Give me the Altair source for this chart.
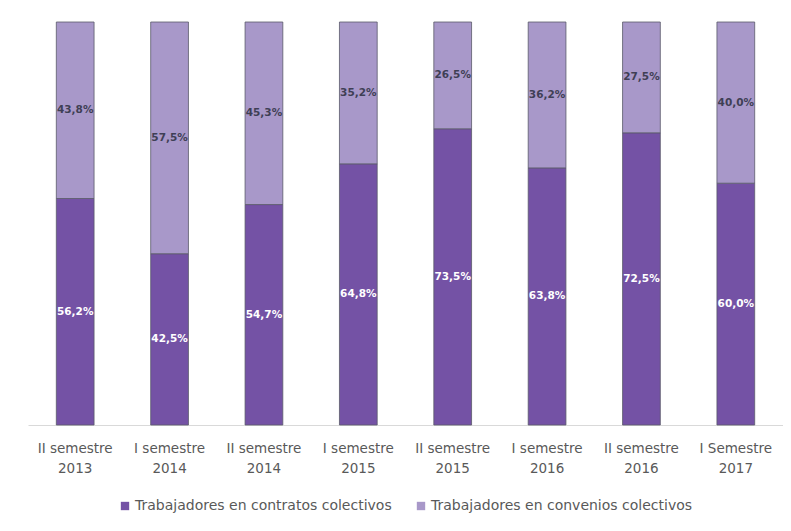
import altair as alt
import pandas as pd

periods = ["II semestre|2013", "I semestre|2014", "II semestre|2014", "I semestre|2015",
           "II semestre|2015", "I semestre|2016", "II semestre|2016", "I Semestre|2017"]
contratos = [56.2, 42.5, 54.7, 64.8, 73.5, 63.8, 72.5, 60.0]
convenios = [43.8, 57.5, 45.3, 35.2, 26.5, 36.2, 27.5, 40.0]
series = ["Trabajadores en contratos colectivos", "Trabajadores en convenios colectivos"]
colors = ["#7452a5", "#a898c9"]

rows = []
for p, a, b in zip(periods, contratos, convenios):
    rows.append({"period": p, "series": series[0], "value": a, "ord": 0})
    rows.append({"period": p, "series": series[1], "value": b, "ord": 1})
df = pd.DataFrame(rows)

FONT = "DejaVu Sans"
TXT = 13.5

base = alt.Chart(df).transform_stack(
    stack="value", groupby=["period"], as_=["y0", "y1"], sort=[alt.SortField("ord", order="ascending")]
).transform_calculate(
    mid="(datum.y0 + datum.y1) / 2",
    lbl="replace(format(datum.value, '.1f'), '.', ',') + '%'"
)

xenc = alt.X("period:N", sort=periods, title=None,
             scale=alt.Scale(paddingInner=0.6, paddingOuter=0.3),
             axis=alt.Axis(labelExpr="split(datum.label, '|')", labelAngle=0, ticks=False,
                           domainColor="#d9d9d9", labelColor="#595959", labelFont=FONT,
                           labelFontSize=TXT, labelPadding=16, labelLineHeight=20))
yscale = alt.Scale(domain=[0, 100], nice=False, zero=True)

bars = base.mark_bar(stroke="#5a5a6a", strokeWidth=0.8).encode(
    x=xenc,
    y=alt.Y("y0:Q", scale=yscale, axis=None),
    y2="y1:Q",
    color=alt.Color("series:N", sort=series,
                    scale=alt.Scale(domain=series, range=colors),
                    legend=alt.Legend(title=None, orient="none", direction="horizontal",
                                      legendX=90, legendY=477, symbolType="square",
                                      symbolSize=70, symbolStrokeWidth=0,
                                      labelFont=FONT, labelFontSize=14, labelLimit=0,
                                      labelColor="#595959", columnPadding=22,
                                      symbolOffset=0, labelOffset=3)),
)

texts = base.mark_text(font=FONT, fontSize=10.5, fontWeight="bold").encode(
    x=alt.X("period:N", sort=periods),
    y=alt.Y("mid:Q", scale=yscale),
    text="lbl:N",
    fill=alt.condition("datum.ord == 0", alt.value("#ffffff"), alt.value("#3f3f55")),
)

chart = alt.layer(bars, texts).properties(
    width=755, height=403,
    autosize=alt.AutoSizeParams(type="none"),
    padding={"left": 20, "top": 14, "right": 0, "bottom": 100},
).configure_view(stroke=None)

chart.save("out.html", embed_options={"renderer": "svg", "actions": False})
